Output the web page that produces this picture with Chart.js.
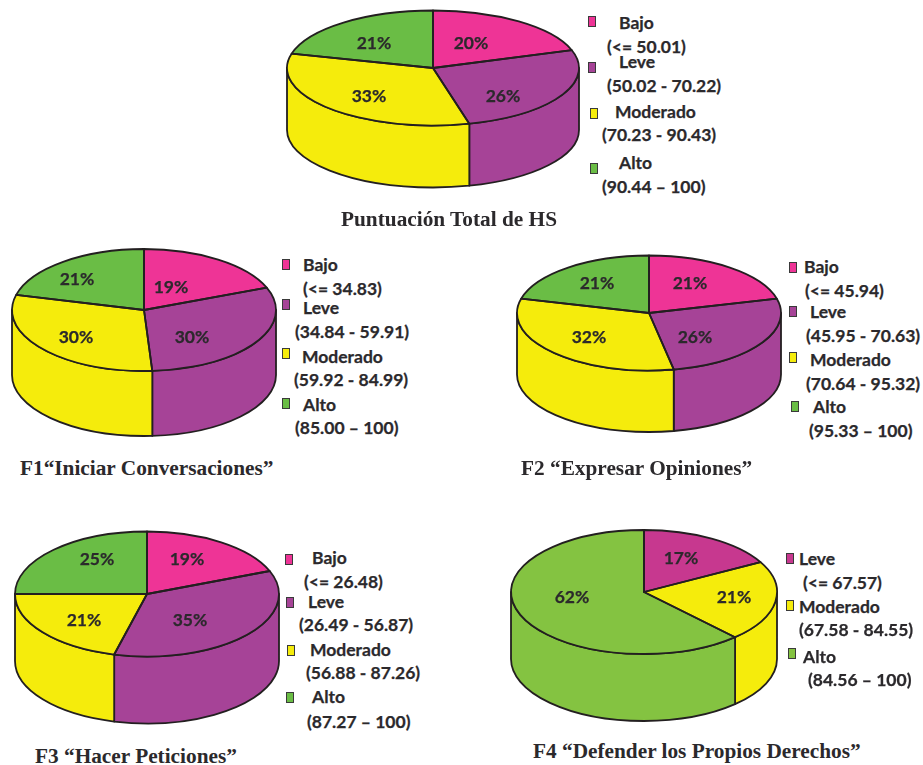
<!DOCTYPE html>
<html lang="es">
<head>
<meta charset="utf-8">
<title>Habilidades sociales</title>
<script src="https://cdn.jsdelivr.net/npm/chart.js@4"></script>
<style>
  html, body { margin: 0; padding: 0; background: #fff; overflow: hidden; }
  #page { position: relative; width: 923px; height: 765px; overflow: hidden; }
  canvas { position: absolute; }
  .txt { position: absolute; white-space: nowrap; line-height: 1; transform: translateY(calc(-50% - 1px));
         font: 700 17.5px Lato, sans-serif; color: #2b292c; -webkit-text-stroke: 0.25px #2b292c; }
  .ttl { position: absolute; white-space: nowrap; line-height: 1; transform: translateY(-50%);
         font: 700 21.3px "Liberation Serif", serif; color: #2b292c; }
  .swatch { position: absolute; box-sizing: border-box; border: 1.5px solid #3a3a3a; }
</style>
</head>
<body>
<div id="page"></div>
<script>
// Categorías de cada gráfico
const categoriesFour = ['Bajo', 'Leve', 'Moderado', 'Alto'];
const categoriesThree = ['Leve', 'Moderado', 'Alto'];

// Porcentajes por nivel
const valuesHS = [20, 26, 33, 21];
const valuesF1 = [19, 30, 30, 21];
const valuesF2 = [21, 26, 32, 21];
const valuesF3 = [19, 35, 21, 25];
const valuesF4 = [17, 21, 62];

// Rangos de puntuación mostrados en cada leyenda
const rangesHS = ['(<= 50.01)', '(50.02 - 70.22)', '(70.23 - 90.43)', '(90.44 – 100)'];
const rangesF1 = ['(<= 34.83)', '(34.84 - 59.91)', '(59.92 - 84.99)', '(85.00 – 100)'];
const rangesF2 = ['(<= 45.94)', '(45.95 - 70.63)', '(70.64 - 95.32)', '(95.33 – 100)'];
const rangesF3 = ['(<= 26.48)', '(26.49 - 56.87)', '(56.88 - 87.26)', '(87.27 – 100)'];
const rangesF4 = ['(<= 67.57)', '(67.58 - 84.55)', '(84.56 – 100)'];

// Colores
const coloursFour = ['#ee3496', '#a64397', '#f5ec0c', '#6abd45'];
const coloursThree = ['#c7388f', '#f5ec0c', '#84c341'];
const OUTLINE = '#231f20';
const LINE_WIDTH = 1.8;

// Geometría de cada pastel: centro, radios de la elipse, altura del cilindro
const panels = [
  { cats: categoriesFour, values: valuesHS, ranges: rangesHS, colours: coloursFour, title: 'Puntuación Total de HS',
    cx: 433, cy: 68, rx: 146, ry: 57.5, depth: 62, titlePos: [341, 219],
    labelOffsets: [[38, -25], [70, 28], [-64, 28], [-59, -25]],
    swatches: [[588, 16], [588, 62], [590, 108], [590, 163]],
    namePos: [[619, 23], [619, 62], [615, 112], [619, 163]],
    rangePos: [[607, 47], [607, 86], [602, 135], [602, 187]] },
  { cats: categoriesFour, values: valuesF1, ranges: rangesF1, colours: coloursFour, title: 'F1“Iniciar Conversaciones”',
    cx: 144, cy: 310, rx: 132, ry: 61, depth: 65, titlePos: [20, 468],
    labelOffsets: [[27, -23], [48, 27], [-68, 27], [-67, -31]],
    swatches: [[282, 259], [282, 299], [282, 348], [282, 398]],
    namePos: [[303, 265], [303, 308], [302, 357], [303, 405]],
    rangePos: [[303, 289], [295, 332], [294, 380], [295, 428]] },
  { cats: categoriesFour, values: valuesF2, ranges: rangesF2, colours: coloursFour, title: 'F2 “Expresar Opiniones”',
    cx: 649, cy: 313, rx: 132, ry: 57.5, depth: 61.5, titlePos: [521, 468],
    labelOffsets: [[41, -30], [46, 24], [-60, 24], [-52, -30]],
    swatches: [[789, 262], [789, 306], [789, 352], [791, 401]],
    namePos: [[804, 267], [810, 312], [810, 360], [813, 407]],
    rangePos: [[805, 291], [806, 336], [806, 384], [809, 431]] },
  { cats: categoriesFour, values: valuesF3, ranges: rangesF3, colours: coloursFour, title: 'F3 “Hacer Peticiones”',
    cx: 147, cy: 594, rx: 132, ry: 62.5, depth: 67, titlePos: [35, 756],
    labelOffsets: [[40, -35], [43, 26], [-63, 26], [-50, -35]],
    swatches: [[285, 554], [286, 597], [287, 645], [286, 692]],
    namePos: [[312, 558], [308, 602], [310, 650], [312, 697]],
    rangePos: [[304, 582], [299, 625], [306, 673], [307, 722]] },
  { cats: categoriesThree, values: valuesF4, ranges: rangesF4, colours: coloursThree, title: 'F4 “Defender los Propios Derechos”',
    cx: 644, cy: 592, rx: 133, ry: 62, depth: 67, titlePos: [533, 751],
    labelOffsets: [[37, -34], [90, 5], [-72, 5]],
    swatches: [[786, 553], [786, 600], [788, 648]],
    namePos: [[799, 559], [799, 607], [803, 657]],
    rangePos: [[803, 583], [799, 630], [808, 680]] }
];

// Dibuja el cilindro: pared frontal antes de los sectores, contornos y etiquetas después
const cylinderPlugin = {
  id: 'cylinder',
  beforeDatasetsDraw(chart, args, opts) {
    const ctx = chart.ctx;
    const arcs = chart.getDatasetMeta(0).data;
    const k = opts.ry / arcs[0].outerRadius;
    ctx.lineWidth = LINE_WIDTH;
    ctx.lineJoin = 'round';
    ctx.strokeStyle = OUTLINE;
    arcs.forEach((arc, i) => {
      const a0 = Math.max(arc.startAngle, 0);
      const a1 = Math.min(arc.endAngle, Math.PI);
      if (a1 <= a0) return;
      const r = arc.outerRadius;
      ctx.beginPath();
      ctx.ellipse(arc.x, arc.y, r, r * k, 0, a0, a1);
      ctx.ellipse(arc.x, arc.y + opts.depth, r, r * k, 0, a1, a0, true);
      ctx.closePath();
      ctx.fillStyle = chart.data.datasets[0].backgroundColor[i];
      ctx.fill();
      ctx.stroke();
    });
    // Los sectores se aplastan en elipse
    ctx.save();
    ctx.translate(0, arcs[0].y);
    ctx.scale(1, k);
    ctx.translate(0, -arcs[0].y);
  },
  afterDatasetsDraw(chart, args, opts) {
    const ctx = chart.ctx;
    ctx.restore();
    const arcs = chart.getDatasetMeta(0).data;
    const k = opts.ry / arcs[0].outerRadius;
    ctx.lineWidth = LINE_WIDTH;
    ctx.lineJoin = 'round';
    ctx.strokeStyle = OUTLINE;
    arcs.forEach(arc => {
      const r = arc.outerRadius;
      ctx.beginPath();
      ctx.moveTo(arc.x, arc.y);
      ctx.ellipse(arc.x, arc.y, r, r * k, 0, arc.startAngle, arc.endAngle);
      ctx.closePath();
      ctx.stroke();
    });
    ctx.font = '700 17.5px Lato, sans-serif';
    ctx.fillStyle = '#2b292c';
    ctx.strokeStyle = '#2b292c';
    ctx.lineWidth = 0.25;
    ctx.textAlign = 'center';
    ctx.textBaseline = 'middle';
    chart.data.datasets[0].data.forEach((v, i) => {
      const [dx, dy] = opts.labelOffsets[i];
      ctx.fillText(v + '%', arcs[i].x + dx, arcs[i].y + dy);
      ctx.strokeText(v + '%', arcs[i].x + dx, arcs[i].y + dy);
    });
  }
};

const page = document.getElementById('page');

function addText(cls, text, x, y) {
  const el = document.createElement('div');
  el.className = cls;
  el.textContent = text;
  el.style.left = x + 'px';
  el.style.top = y + 'px';
  page.appendChild(el);
}

panels.forEach(p => {
  const size = 2 * p.rx + 4;
  const canvas = document.createElement('canvas');
  canvas.width = size;
  canvas.height = size;
  canvas.style.left = (p.cx - size / 2) + 'px';
  canvas.style.top = (p.cy - size / 2) + 'px';
  page.appendChild(canvas);

  new Chart(canvas, {
    type: 'pie',
    data: {
      labels: p.cats,
      datasets: [{ data: p.values, backgroundColor: p.colours, borderWidth: 0 }]
    },
    options: {
      responsive: false,
      animation: false,
      events: [],
      layout: { padding: 2 },
      plugins: {
        legend: { display: false },
        tooltip: { enabled: false },
        cylinder: { ry: p.ry, depth: p.depth, labelOffsets: p.labelOffsets }
      }
    },
    plugins: [cylinderPlugin]
  });

  // Leyenda y título
  p.cats.forEach((name, i) => {
    const sw = document.createElement('div');
    sw.className = 'swatch';
    sw.style.cssText = `left:${p.swatches[i][0]}px;top:${p.swatches[i][1]}px;width:8px;height:11px;background:${p.colours[i]}`;
    page.appendChild(sw);
    addText('txt', name, p.namePos[i][0], p.namePos[i][1]);
    addText('txt', p.ranges[i], p.rangePos[i][0], p.rangePos[i][1]);
  });
  addText('ttl', p.title, p.titlePos[0], p.titlePos[1]);
});
</script>
</body>
</html>
